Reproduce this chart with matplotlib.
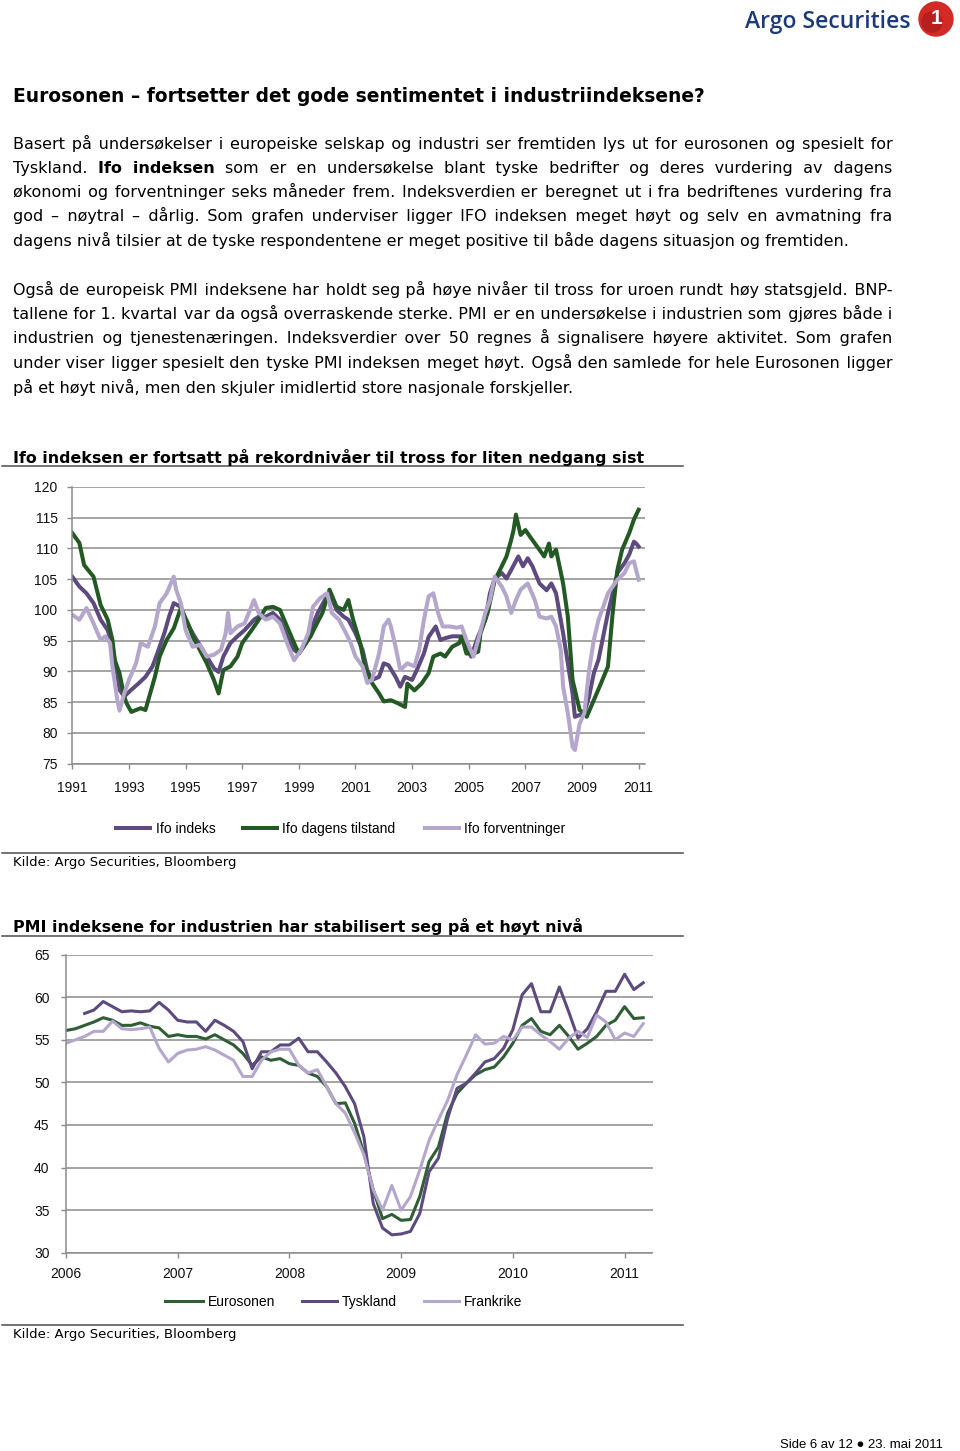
import matplotlib
matplotlib.use("Agg")
import matplotlib.pyplot as plt
from matplotlib.lines import Line2D
from matplotlib.patches import Ellipse
from matplotlib import font_manager, ft2font

plt.rcParams['font.family'] = ['Liberation Sans', 'DejaVu Sans']

# ---------------- data: Ifo (month index from Jan 1991) ----------------
ifo_years = ['1991', '1993', '1995', '1997', '1999', '2001', '2003', '2005', '2007', '2009', '2011']
ifo_index_m = [0, 3, 6, 9, 12, 15, 17, 19, 20, 22, 25, 28, 31, 34, 36, 39, 41, 43, 46, 48, 51, 54, 57, 60, 62,
               64, 67, 70, 73, 77, 79, 82, 85, 88, 91, 94, 96, 99, 101, 104, 107, 109, 112, 115, 117, 120, 123,
               125, 127, 130, 132, 134, 137, 139, 141, 144, 146, 149, 151, 154, 156, 158, 161, 164, 166, 169,
               172, 175, 177, 179, 182, 184, 186, 189, 191, 193, 195, 198, 201, 203, 205, 206, 208, 210, 212,
               213, 215, 217, 219, 221, 223, 225, 227, 229, 231, 234, 236, 238, 239, 240]
ifo_index_v = [105.4, 103.8, 102.7, 101.1, 98.4, 96.7, 94.0, 89.7, 87.0, 85.9, 87.0, 88.0, 89.1, 90.8, 92.9, 96.2,
               98.9, 101.1, 100.5, 98.4, 96.2, 94.3, 92.4, 90.5, 89.9, 92.4, 94.6, 95.7, 96.7, 98.4, 98.9, 98.9,
               99.5, 98.4, 95.7, 93.5, 92.9, 94.6, 96.7, 99.5, 101.6, 102.7, 100.0, 98.9, 98.4, 96.2, 93.5, 90.2,
               88.6, 89.1, 91.3, 91.0, 89.1, 87.5, 89.1, 88.6, 90.2, 92.9, 95.6, 97.3, 95.1, 95.4, 95.7, 95.7,
               95.1, 92.4, 95.7, 98.4, 102.7, 105.1, 106.0, 105.1, 106.5, 108.7, 107.1, 108.4, 107.1, 104.3,
               103.2, 104.3, 102.7, 100.5, 96.2, 91.3, 86.4, 82.6, 82.9, 83.2, 85.9, 89.7, 91.9, 95.7, 99.5,
               102.7, 106.0, 107.6, 109.0, 111.1, 110.8, 110.3]

ifo_now_m = [0, 3, 5, 9, 12, 15, 17, 18, 20, 22, 23, 25, 29, 31, 33, 35, 37, 40, 43, 46, 49, 51, 54, 57, 60, 62,
             64, 67, 70, 72, 76, 79, 82, 85, 88, 91, 94, 96, 98, 101, 103, 106, 109, 112, 115, 117, 119, 122,
             124, 127, 130, 132, 135, 138, 141, 142, 145, 148, 151, 153, 156, 158, 161, 164, 165, 167, 170,
             172, 173, 176, 179, 182, 184, 186, 187, 188, 190, 192, 194, 197, 200, 202, 203, 205, 208, 210,
             212, 215, 217, 218, 221, 224, 227, 229, 231, 233, 236, 238, 240]
ifo_now_v = [112.5, 110.9, 107.3, 105.4, 100.8, 98.4, 95.1, 91.8, 89.7, 85.9, 84.8, 83.4, 84.0, 83.7, 86.4, 89.1,
             92.4, 95.1, 97.0, 100.3, 97.8, 95.7, 93.5, 91.3, 88.6, 86.4, 90.2, 90.8, 92.4, 94.6, 96.7, 98.4,
             100.3, 100.5, 100.0, 97.3, 94.6, 92.9, 94.0, 95.7, 97.3, 99.5, 103.3, 100.5, 100.0, 101.6, 98.4,
             94.6, 90.8, 88.1, 86.4, 85.1, 85.3, 84.8, 84.2, 88.0, 86.9, 88.0, 89.7, 92.4, 92.9, 92.4, 94.0,
             94.6, 95.7, 92.9, 92.9, 93.2, 96.2, 99.5, 104.8, 107.1, 108.7, 111.4, 113.0, 115.5, 112.2, 113.0,
             111.9, 110.3, 108.7, 110.8, 108.7, 109.8, 104.3, 98.9, 88.6, 83.7, 83.2, 82.6, 85.3, 88.0, 90.8,
             99.5, 106.5, 109.8, 112.5, 114.7, 116.3]

ifo_exp_m = [0, 3, 6, 9, 12, 14, 16, 17, 19, 20, 22, 24, 27, 29, 32, 35, 37, 40, 43, 44, 46, 48, 51, 54, 57, 60,
             63, 65, 66, 67, 70, 73, 77, 79, 82, 85, 88, 91, 94, 97, 100, 102, 105, 108, 110, 113, 116, 118,
             120, 123, 125, 127, 130, 132, 134, 135, 137, 139, 142, 145, 147, 149, 151, 153, 155, 157, 160,
             163, 165, 167, 170, 172, 175, 177, 179, 182, 184, 186, 188, 190, 193, 196, 198, 201, 203, 205,
             207, 208, 210, 212, 213, 215, 217, 219, 221, 223, 225, 227, 229, 231, 234, 236, 238, 240]
ifo_exp_v = [99.2, 98.4, 100.3, 97.8, 95.1, 95.7, 94.6, 90.8, 85.5, 83.6, 86.4, 88.6, 91.3, 94.6, 94.0, 97.3,
             101.1, 102.7, 105.4, 103.3, 101.1, 96.7, 94.0, 94.3, 92.4, 92.7, 93.5, 96.2, 99.5, 96.2, 97.3,
             97.8, 101.6, 99.5, 98.4, 98.9, 97.8, 94.6, 91.8, 93.5, 96.2, 100.5, 101.9, 102.7, 99.5, 98.4,
             96.2, 94.6, 92.4, 90.8, 88.1, 88.6, 92.9, 97.3, 98.4, 97.3, 94.0, 90.2, 91.3, 90.8, 93.5, 98.4,
             102.2, 102.7, 99.5, 97.3, 97.3, 97.1, 97.3, 95.1, 92.4, 95.1, 99.5, 101.6, 105.4, 103.8, 102.2,
             99.5, 101.6, 103.3, 104.3, 101.6, 98.9, 98.6, 98.9, 97.3, 93.5, 87.5, 83.2, 77.7, 77.2, 81.5,
             83.2, 90.2, 95.1, 98.4, 100.5, 102.7, 103.8, 104.9, 106.0, 107.6, 107.9, 104.9]

ifo_yticks = [75, 80, 85, 90, 95, 100, 105, 110, 115, 120]

# ---------------- data: PMI (month index from Jan 2006) ----------------
pmi_years = ['2006', '2007', '2008', '2009', '2010', '2011']
pmi_ez = [56.1, 56.3, 56.7, 57.1, 57.6, 57.3, 56.7, 56.7, 57.0, 56.6, 56.4, 55.4, 55.6, 55.4, 55.4, 55.1,
          55.6, 55.0, 54.4, 53.4, 52.0, 53.0, 52.6, 52.8, 52.2, 52.0, 51.1, 50.7, 49.5, 47.5, 47.6, 45.2,
          41.7, 37.4, 34.0, 34.5, 33.8, 33.9, 36.6, 40.7, 42.4, 46.4, 48.7, 49.9, 50.9, 51.5, 51.8, 53.0,
          54.6, 56.7, 57.5, 56.0, 55.6, 56.7, 55.4, 53.9, 54.6, 55.4, 56.7, 57.3, 58.9, 57.5, 57.6]
pmi_de_start = 2
pmi_de = [58.1, 58.5, 59.5, 58.9, 58.3, 58.4, 58.3, 58.4, 59.4, 58.5, 57.3, 57.1, 57.1, 56.0, 57.3, 56.7,
          56.0, 54.8, 51.6, 53.6, 53.6, 54.4, 54.4, 55.2, 53.6, 53.6, 52.4, 51.1, 49.5, 47.5, 43.6, 35.8,
          32.9, 32.1, 32.2, 32.5, 34.6, 39.5, 41.1, 45.8, 49.3, 49.9, 51.1, 52.4, 52.8, 54.0, 56.2, 60.3,
          61.6, 58.3, 58.3, 61.2, 58.3, 55.2, 56.3, 58.3, 60.7, 60.7, 62.7, 60.9, 61.7]
pmi_fr = [54.6, 55.0, 55.4, 56.0, 56.0, 57.2, 56.3, 56.2, 56.3, 56.5, 54.0, 52.4, 53.4, 53.8, 53.9, 54.2,
          53.8, 53.2, 52.6, 50.7, 50.7, 52.6, 53.6, 53.9, 53.9, 52.0, 51.1, 51.5, 49.5, 47.5, 46.4, 44.1,
          41.5, 37.4, 35.0, 37.9, 35.0, 36.6, 39.7, 43.2, 45.6, 47.9, 50.9, 53.2, 55.6, 54.5, 54.6, 55.4,
          55.0, 56.5, 56.5, 55.6, 54.8, 53.9, 55.2, 56.0, 55.3, 57.9, 57.1, 55.0, 55.8, 55.4, 56.9]
pmi_yticks = [30, 35, 40, 45, 50, 55, 60, 65]

# ---------------- text ----------------
heading = "Eurosonen \u2013 fortsetter det gode sentimentet i industriindeksene?"
para1 = [
    [("Basert på undersøkelser i europeiske selskap og industri ser fremtiden lys ut for eurosonen og spesielt for", False)],
    [("Tyskland.", False), ("Ifo indeksen", True), ("som er en undersøkelse blant tyske bedrifter og deres vurdering av dagens", False)],
    [("økonomi og forventninger seks måneder frem. Indeksverdien er beregnet ut i fra bedriftenes vurdering fra", False)],
    [("god \u2013 nøytral \u2013 dårlig. Som grafen underviser ligger IFO indeksen meget høyt og selv en avmatning fra", False)],
    [("dagens nivå tilsier at de tyske respondentene er meget positive til både dagens situasjon og fremtiden.", False)],
]
para2 = [
    [("Også de europeisk PMI indeksene har holdt seg på høye nivåer til tross for uroen rundt høy statsgjeld. BNP-", False)],
    [("tallene for 1. kvartal var da også overraskende sterke. PMI er en undersøkelse i industrien som gjøres både i", False)],
    [("industrien og tjenestenæringen. Indeksverdier over 50 regnes å signalisere høyere aktivitet. Som grafen", False)],
    [("under viser ligger spesielt den tyske PMI indeksen meget høyt. Også den samlede for hele Eurosonen ligger", False)],
    [("på et høyt nivå, men den skjuler imidlertid store nasjonale forskjeller.", False)],
]
title1 = "Ifo indeksen er fortsatt på rekordnivåer til tross for liten nedgang sist"
title2 = "PMI indeksene for industrien har stabilisert seg på et høyt nivå"
source = "Kilde: Argo Securities, Bloomberg"
footer = "Side 6 av 12 \u25CF 23. mai 2011"
leg1 = ["Ifo indeks", "Ifo dagens tilstand", "Ifo forventninger"]
leg2 = ["Eurosonen", "Tyskland", "Frankrike"]

# ---------------- style ----------------
C_PURPLE = '#5d4a7f'
C_GREEN = '#235a24'
C_GREEN2 = '#2f5e35'
C_LIGHT = '#b5a6cc'
C_GRID = '#8c8c8c'
C_RULE = '#4d4d4d'
BODY_FONT = ['DejaVu Sans']

W, H = 960, 1451
fig = plt.figure(figsize=(W / 100, H / 100), dpi=100)
fig.patch.set_facecolor('white')
renderer = fig.canvas.get_renderer()


def fx(px):
    return px / W


def fy(py):
    return 1 - py / H


def measure(s, size, **kw):
    t = fig.text(0, 0, s, fontsize=size, **kw)
    w = t.get_window_extent(renderer).width
    t.remove()
    return w


def fit_size(s, width, **kw):
    return 20 * width / measure(s, 20, **kw)


def put(x, y, s, size, **kw):
    # y is the visual centre line of the text (px from top); place baseline below it
    base = y + 0.34 * size * 100 / 72
    return fig.text(fx(x), fy(base), s, fontsize=size, va='baseline', **kw)


# ---------------- logo ----------------
logo_size = fit_size("Argo Securities", 165, family=['Open Sans', 'DejaVu Sans'], weight='semibold')
put(745, 20, "Argo Securities", logo_size, family=['Open Sans', 'DejaVu Sans'], weight='semibold', color='#1c3a7a')
fig.add_artist(Ellipse((fx(936), fy(19)), 34 / W, 34 / H, transform=fig.transFigure, color='#d42a26', zorder=3))
fig.add_artist(Ellipse((fx(932), fy(22)), 20 / W, 20 / H, transform=fig.transFigure, color='#b71f1f', zorder=3))
fig.text(fx(937), fy(18), "1", fontsize=15, weight='bold', color='white', ha='center', va='center', zorder=4)

# ---------------- heading & body ----------------
hsize = fit_size(heading, 692, family=BODY_FONT, weight='bold')
put(13, 96, heading, hsize, family=BODY_FONT, weight='bold')

body_size = fit_size(para1[4][0][0], 832, family=BODY_FONT)

# space characters available in the body font, used to justify lines
_fpath = font_manager.findfont(font_manager.FontProperties(family='DejaVu Sans'))
_cmap = ft2font.FT2Font(_fpath).get_charmap()
_base = measure("aa", body_size, family=BODY_FONT)
SP = measure("a a", body_size, family=BODY_FONT) - _base
space_chars = [c for c in [' ', '\u2009', '\u2006', '\u200a'] if ord(c) in _cmap]
space_w = {c: measure("a" + c + "a", body_size, family=BODY_FONT) - _base for c in space_chars}
PADS = [("", 0.0)]
for c1 in space_chars:
    for k1 in range(1, 4):
        PADS.append((c1 * k1, k1 * space_w[c1]))
        for c2 in space_chars:
            if c2 != c1:
                for k2 in range(1, 3):
                    PADS.append((c1 * k1 + c2 * k2, k1 * space_w[c1] + k2 * space_w[c2]))


def body_line(y, parts, justify, x0=13, x1=892):
    segs = [(txt.split(' '), bold) for txt, bold in parts]
    ngaps = sum(len(w) - 1 for w, _ in segs) + len(segs) - 1
    natural = sum(measure(' '.join(w), body_size, family=BODY_FONT, weight='bold' if b else 'normal')
                  for w, b in segs) + (len(segs) - 1) * SP
    extra = (x1 - x0 - natural) / ngaps if justify else 0.0
    pads = []
    acc = 0.0
    for i in range(ngaps):
        target = extra * (i + 1)
        best = min(PADS, key=lambda p: (abs(acc + p[1] - target), len(p[0])))
        pads.append(best)
        acc += best[1]
    gi = 0
    x = x0
    for si, (words, b) in enumerate(segs):
        s = words[0]
        for w in words[1:]:
            s += ' ' + pads[gi][0] + w
            gi += 1
        wt = 'bold' if b else 'normal'
        put(x, y, s, body_size, family=BODY_FONT, weight=wt)
        if si < len(segs) - 1:
            x += measure(s, body_size, family=BODY_FONT, weight=wt) + SP + pads[gi][1]
            gi += 1


for i, (y, parts) in enumerate(zip([144, 168, 192, 216, 241], para1)):
    body_line(y, parts, i < 4)
for i, (y, parts) in enumerate(zip([290, 314, 338, 363, 388], para2)):
    body_line(y, parts, i < 4)

# ---------------- section titles / rules ----------------
t1size = fit_size(title1, 629, family=BODY_FONT, weight='bold')
put(13, 458, title1, t1size, family=BODY_FONT, weight='bold')
t2size = fit_size(title2, 567, family=BODY_FONT, weight='bold')
put(13, 927, title2, t2size, family=BODY_FONT, weight='bold')
for yy in [466.5, 852.5, 935.5, 1324.5]:
    fig.add_artist(Line2D([fx(2), fx(683)], [fy(yy), fy(yy)], color=C_RULE, lw=1.1))
src_size = fit_size(source, 223, family=BODY_FONT)
put(13, 861, source, src_size, family=BODY_FONT)
put(13, 1333, source, src_size, family=BODY_FONT)

fsize = fit_size(footer, 163)
put(780, 1444, footer, fsize)


# ---------------- axes helper ----------------
def style(ax, ylim, yticks, xlim, xticks, xlabels, ypad, xpad):
    ax.set_xlim(*xlim)
    ax.set_ylim(*ylim)
    ax.set_yticks(yticks)
    ax.set_yticklabels([str(v) for v in yticks])
    ax.set_xticks(xticks)
    ax.set_xticklabels(xlabels)
    for s in ['top', 'right']:
        ax.spines[s].set_visible(False)
    for s in ['left', 'bottom']:
        ax.spines[s].set_color(C_GRID)
        ax.spines[s].set_linewidth(1.1)
    ax.grid(axis='y', color=C_GRID, lw=1.1)
    ax.set_axisbelow(True)
    ax.tick_params(axis='both', direction='out', length=3.6, width=1.0, color=C_GRID,
                   labelsize=10, labelcolor='#111111')
    ax.tick_params(axis='y', pad=ypad)
    ax.tick_params(axis='x', pad=xpad)
    ax.patch.set_alpha(0)


# ---------------- chart 1: Ifo ----------------
ax1 = fig.add_axes([fx(72.3), fy(763.5), (645 - 72.3) / W, (763.5 - 487) / H])
ax1.plot(ifo_index_m, ifo_index_v, color=C_PURPLE, lw=2.9, solid_joinstyle='round', label=leg1[0])
ax1.plot(ifo_now_m, ifo_now_v, color=C_GREEN, lw=2.9, solid_joinstyle='round', label=leg1[1])
ax1.plot(ifo_exp_m, ifo_exp_v, color=C_LIGHT, lw=2.9, solid_joinstyle='round', label=leg1[2])
style(ax1, (75, 120), ifo_yticks, (0, 242.7), [24 * i for i in range(len(ifo_years))], ifo_years, 7.0, 8.7)

for (a, b, tx), lab, col in zip([(116, 150, 156), (243, 277, 282), (425, 459, 464)], leg1,
                                [C_PURPLE, C_GREEN, C_LIGHT]):
    fig.add_artist(Line2D([fx(a), fx(b)], [fy(828), fy(828)], color=col, lw=2.9))
    put(tx, 828, lab, 10)

# ---------------- chart 2: PMI ----------------
ax2 = fig.add_axes([fx(66), fy(1252.7), (652.5 - 66) / W, (1252.7 - 954.7) / H])
ax2.plot(range(len(pmi_ez)), pmi_ez, color=C_GREEN2, lw=2.2, solid_joinstyle='round', label=leg2[0])
ax2.plot(range(pmi_de_start, pmi_de_start + len(pmi_de)), pmi_de, color=C_PURPLE, lw=2.2,
         solid_joinstyle='round', label=leg2[1])
ax2.plot(range(len(pmi_fr)), pmi_fr, color=C_LIGHT, lw=2.2, solid_joinstyle='round', label=leg2[2])
style(ax2, (30, 65), pmi_yticks, (0, 63), [12 * i for i in range(len(pmi_years))], pmi_years, 8.3, 7.0)

for (a, b, tx), lab, col in zip([(165, 203, 208), (302, 337, 342), (424, 459, 464)], leg2,
                                [C_GREEN2, C_PURPLE, C_LIGHT]):
    fig.add_artist(Line2D([fx(a), fx(b)], [fy(1301), fy(1301)], color=col, lw=2.2))
    put(tx, 1301, lab, 10)

fig.savefig("out.png", dpi=100, facecolor='white')
